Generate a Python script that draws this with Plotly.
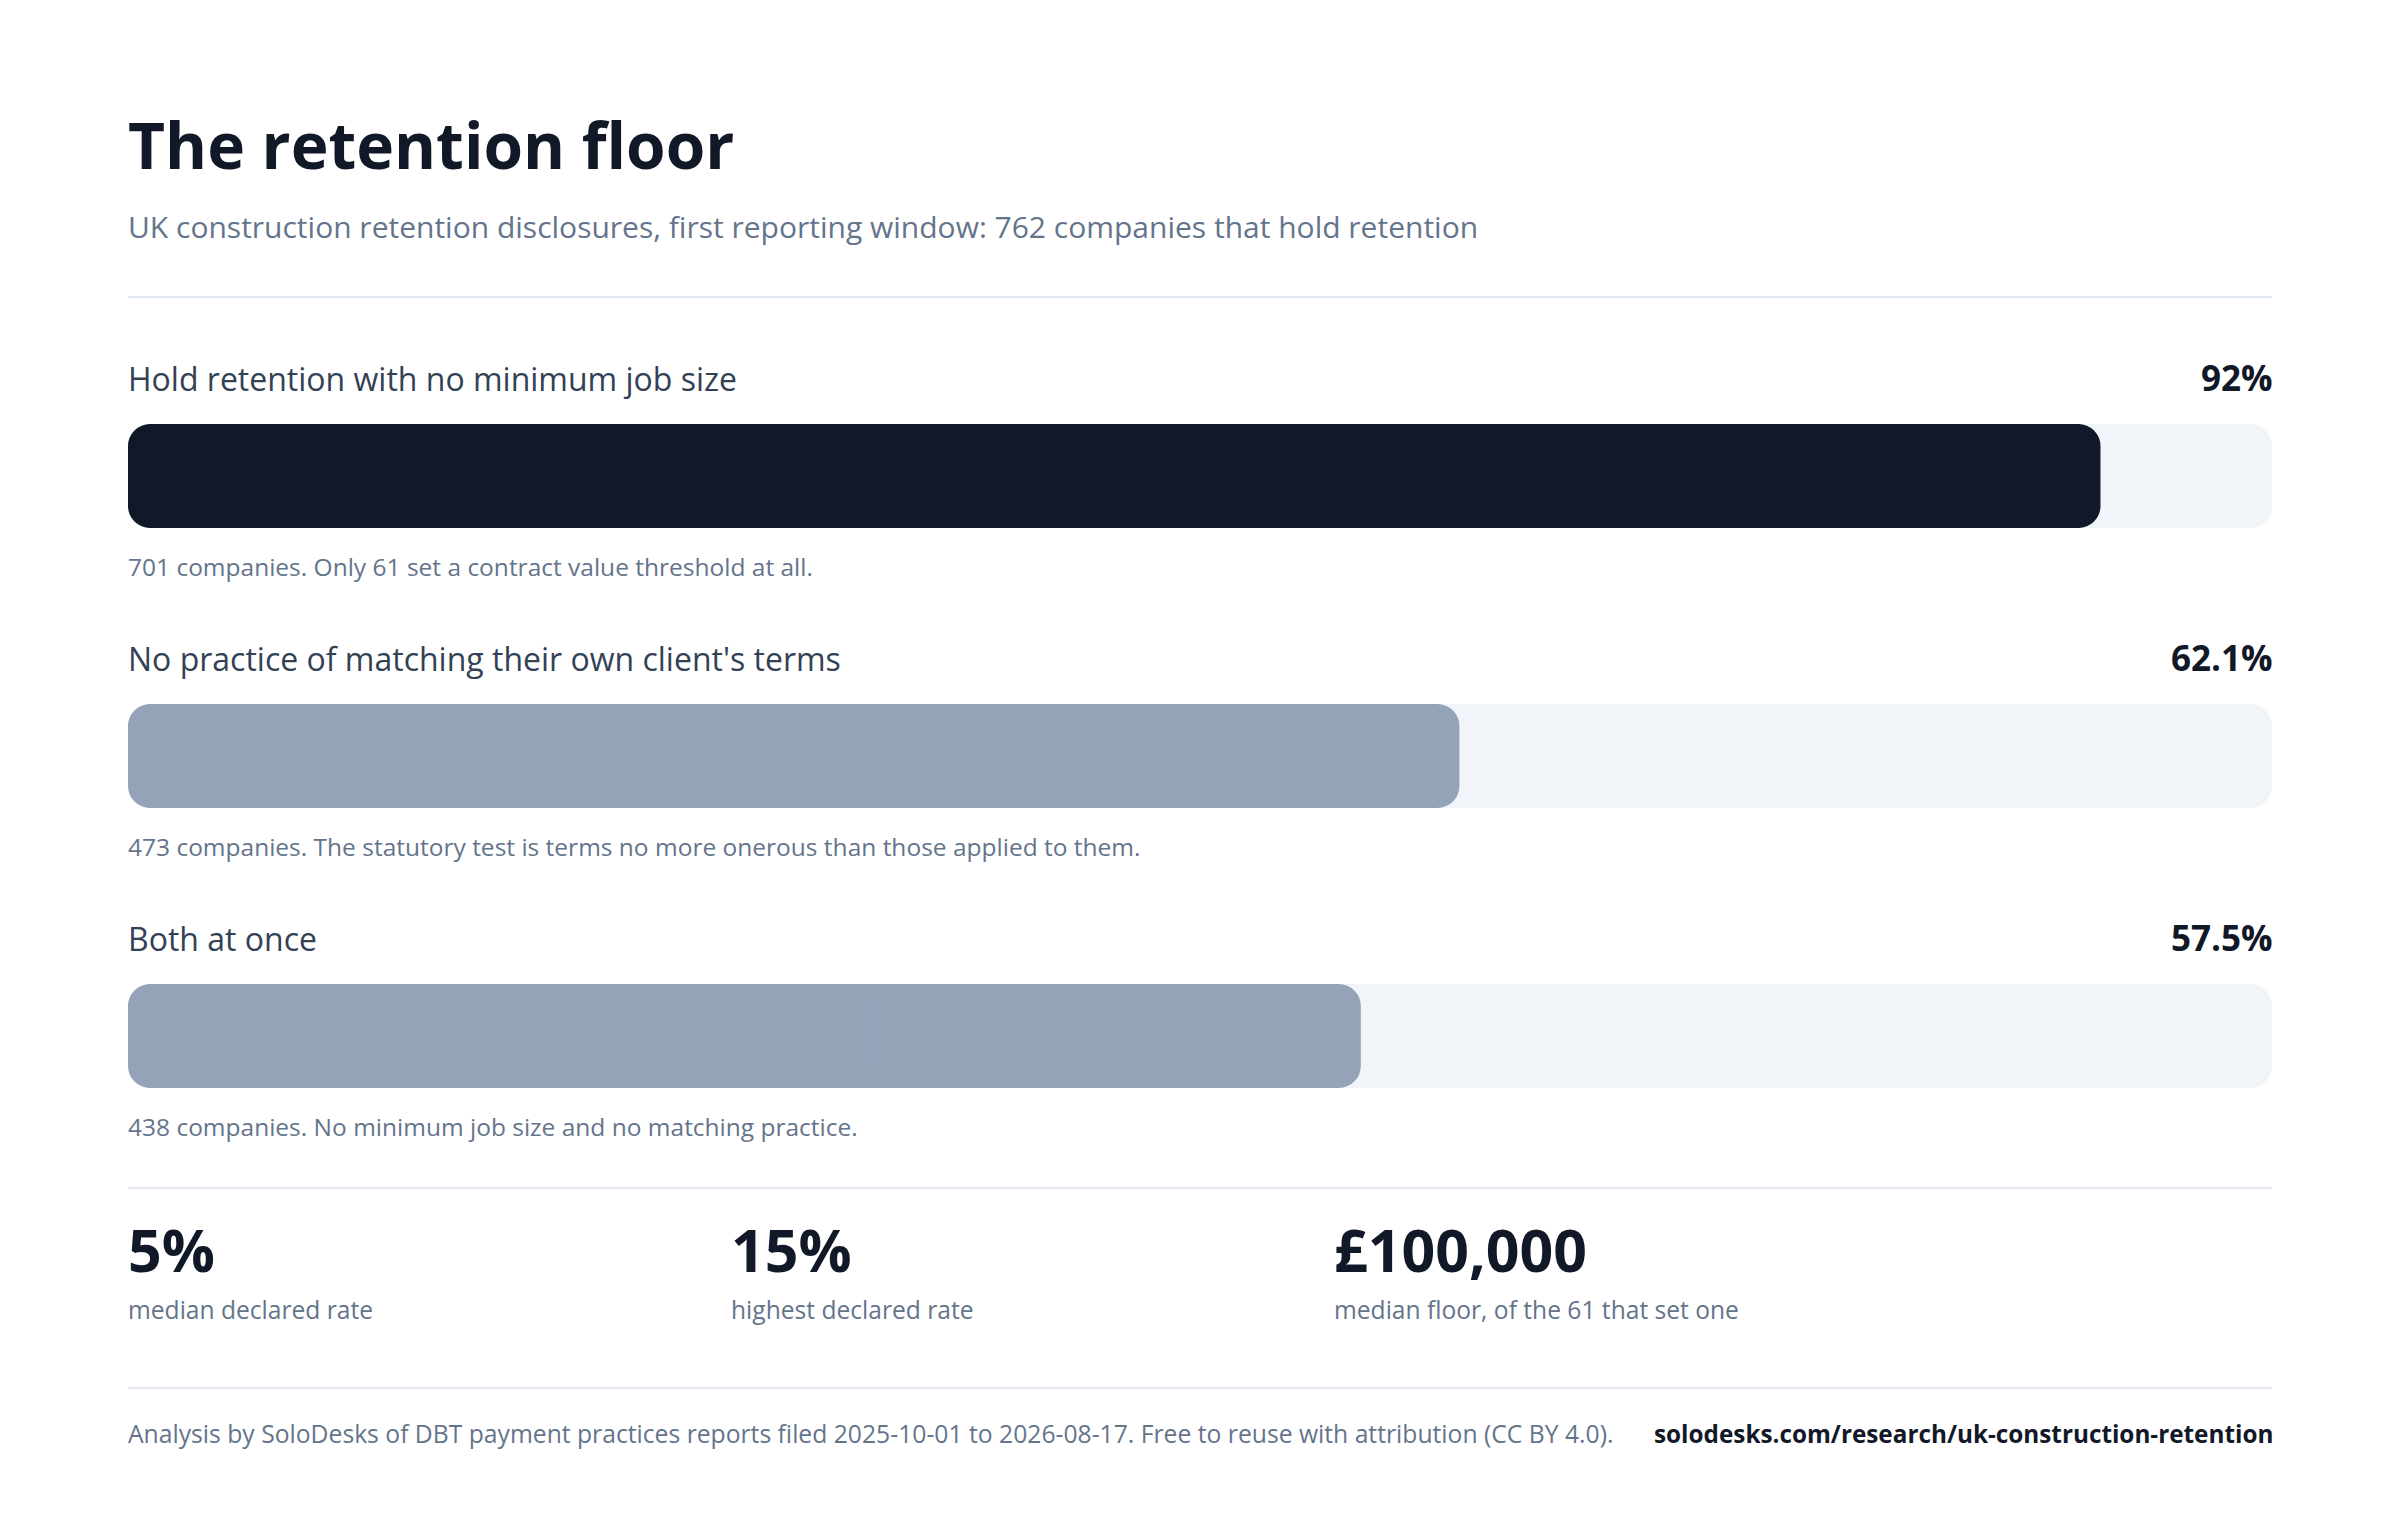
import plotly.graph_objects as go

# data
categories = [
    "Hold retention with no minimum job size",
    "No practice of matching their own client's terms",
    "Both at once",
]
shares = [92, 62.1, 57.5]
counts = [701, 473, 438]
note_tails = [
    "Only 61 set a contract value threshold at all.",
    "The statutory test is terms no more onerous than those applied to them.",
    "No minimum job size and no matching practice.",
]
stat_values = ["5%", "15%", "£100,000"]
stat_labels = ["median declared rate", "highest declared rate", "median floor, of the 61 that set one"]

title = "The retention floor"
subtitle = "UK construction retention disclosures, first reporting window: 762 companies that hold retention"
footer = ("Analysis by SoloDesks of DBT payment practices reports filed 2025-10-01 to 2026-08-17. "
          "Free to reuse with attribution (CC BY 4.0).")
footer_url = "solodesks.com/research/uk-construction-retention"

W, H = 2400, 1520
PAGE = 8               # the browser's body margin pushes the figure by this much
LEFT, RIGHT = 128, 2272
ROW_GAP = 280          # px between bar centres
FIRST_CENTRE = 476     # px from top of the page
BAR_PX = 104
FONT = "Open Sans, Noto Sans, sans-serif"
INK = "#111827"
LABEL = "#334155"
MUTED = "#64748b"
TRACK = "#f1f5f9"
RULE = "#e2e8f0"
bar_colors = [INK, "#94a3b8", "#94a3b8"]

DESC = 0.293  # descender of Open Sans, used to put text on a baseline


def py(px):
    return 1 - (px - PAGE) / H


def px_x(px):
    return (px - PAGE) / W


annotations = []


def text(s, x, baseline, size, color, bold=False, align="left"):
    nudge = -1 if align == "left" else 2
    annotations.append(dict(
        text=f"<b>{s}</b>" if bold else s,
        x=px_x(x + nudge), y=py(baseline + DESC * size),
        xref="paper", yref="paper", xanchor=align, yanchor="bottom",
        showarrow=False, borderpad=0, font=dict(family=FONT, size=size, color=color),
    ))


fig = go.Figure()

# background track and value bar, each drawn as two overlapping halves so both ends are rounded
for base_frac, span_frac in [(0.4, 0.6), (0.6, -0.6)]:
    fig.add_trace(go.Bar(
        y=categories, x=[100 * span_frac] * 3, base=[100 * base_frac] * 3,
        orientation="h", marker=dict(color=TRACK, cornerradius=22, line=dict(width=0)),
        width=BAR_PX / ROW_GAP, hoverinfo="skip", showlegend=False,
    ))
for base_frac, span_frac in [(0.4, 0.6), (0.6, -0.6)]:
    fig.add_trace(go.Bar(
        y=categories, x=[v * span_frac for v in shares], base=[v * base_frac for v in shares],
        orientation="h", marker=dict(color=bar_colors, cornerradius=22, line=dict(width=0)),
        width=BAR_PX / ROW_GAP, hoverinfo="skip", showlegend=False,
    ))

# header
text(title, LEFT, 170, 64, INK, bold=True)
text(subtitle, LEFT, 239, 30, MUTED)

# row labels, values and notes
for i, (cat, v, n, tail) in enumerate(zip(categories, shares, counts, note_tails)):
    centre = FIRST_CENTRE + i * ROW_GAP
    top, bottom = centre - BAR_PX / 2, centre + BAR_PX / 2
    text(cat, LEFT, top - 32, 32, LABEL)
    text(f"{v:g}%", RIGHT, top - 32, 35, INK, bold=True, align="right")
    text(f"{n} companies. {tail}", LEFT, bottom + 49, 24.5, MUTED)

# summary figures
stat_x = [LEFT, 731, 1334]
for sx, val, lab in zip(stat_x, stat_values, stat_labels):
    text(val, sx, 1273, 59, INK, bold=True)
    text(lab, sx, 1320, 24.6, MUTED)

# footer
text(footer, LEFT, 1444, 24.7, MUTED)
text(footer_url, RIGHT, 1444, 24.3, INK, bold=True, align="right")

shapes = [
    dict(type="line", xref="paper", yref="paper", x0=px_x(LEFT), x1=px_x(RIGHT),
         y0=py(yy), y1=py(yy), line=dict(color=RULE, width=2))
    for yy in (297, 1188, 1388)
]

# y range so that the rows land on their pixel positions
y_top = -(FIRST_CENTRE - PAGE) / ROW_GAP
y_bottom = (H - FIRST_CENTRE + PAGE) / ROW_GAP

fig.update_layout(
    width=W, height=H,
    margin=dict(l=0, r=0, t=0, b=0),
    paper_bgcolor="white", plot_bgcolor="white",
    barmode="overlay",
    xaxis=dict(domain=[px_x(LEFT), px_x(RIGHT)], range=[0, 100], visible=False, fixedrange=True),
    yaxis=dict(domain=[0, 1], range=[y_bottom, y_top], visible=False, fixedrange=True,
               type="category", categoryorder="array", categoryarray=categories),
    annotations=annotations,
    shapes=shapes,
    showlegend=False,
)

fig.write_html("out.html")
